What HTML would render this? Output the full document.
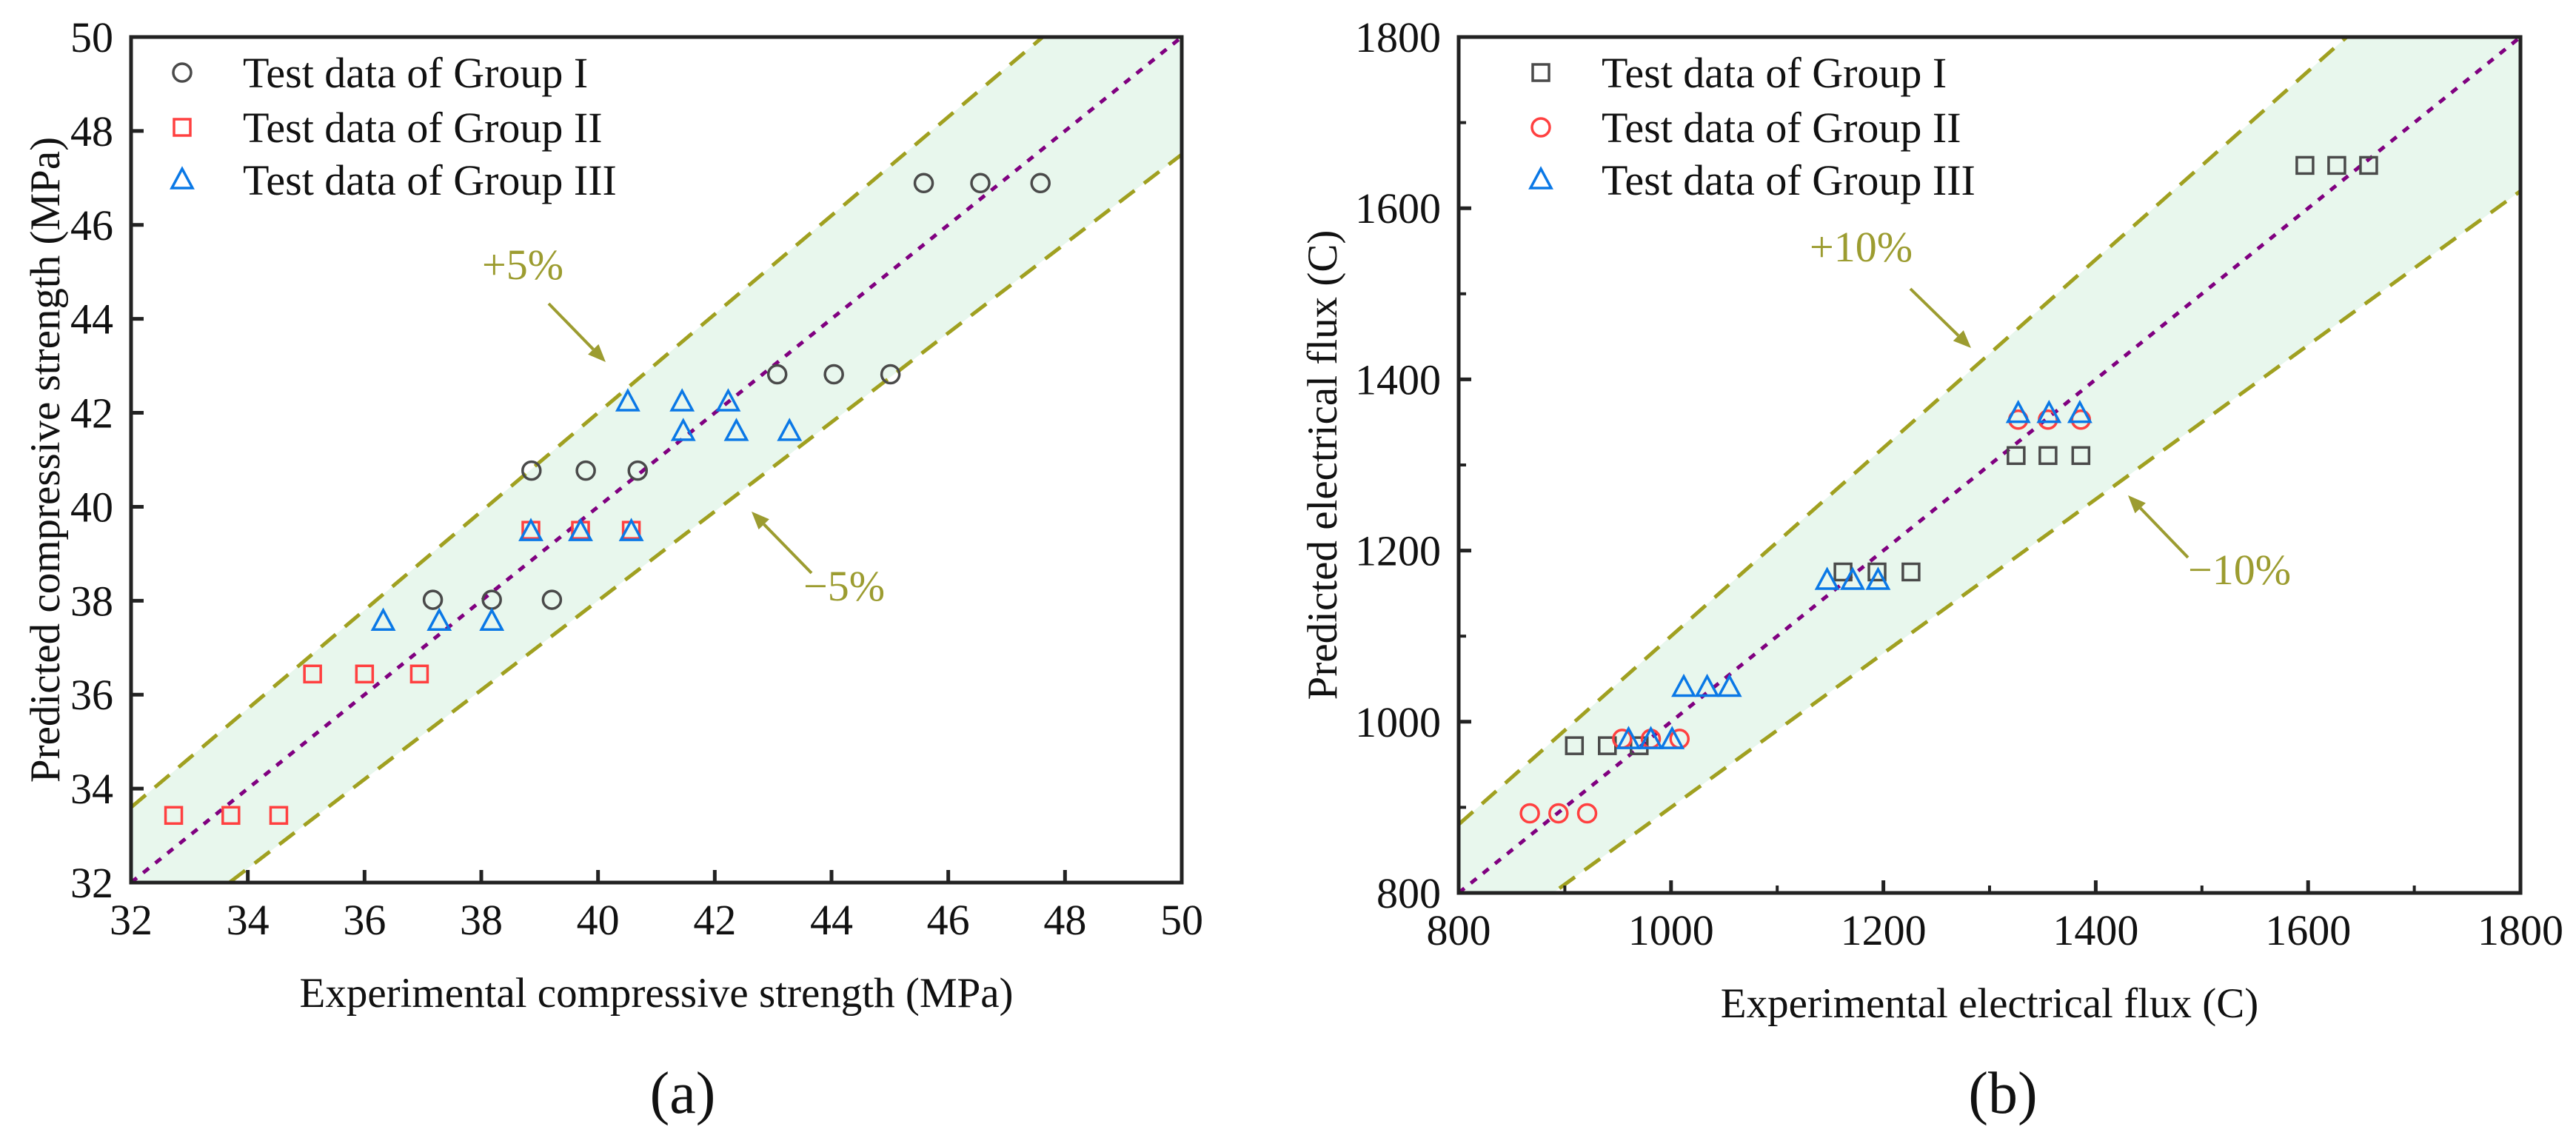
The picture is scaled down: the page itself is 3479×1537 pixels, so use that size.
<!DOCTYPE html>
<html><head><meta charset="utf-8">
<style>
html,body{margin:0;padding:0;background:#fff;}
svg{display:block;font-family:"Liberation Serif","Times New Roman",serif;}
</style></head>
<body>
<svg id="fig" width="3479" height="1537" viewBox="0 0 3479 1537" xmlns="http://www.w3.org/2000/svg">
</svg>
<script>
// ---------- Panel (a) data ----------
const aXTicks = [32,34,36,38,40,42,44,46,48,50];
const aYTicks = [32,34,36,38,40,42,44,46,48,50];
const aG1x = [45.58,46.55,47.58,43.07,44.04,45.01,38.86,39.79,40.68,37.17,38.18,39.21];
const aG1y = [46.89,46.89,46.89,42.82,42.82,42.82,40.77,40.77,40.77,38.02,38.02,38.02];
const aG2x = [32.73,33.71,34.53,35.11,36.00,36.94,38.85,39.70,40.57];
const aG2y = [33.43,33.43,33.43,36.44,36.44,36.44,39.50,39.50,39.50];
const aG3x = [36.32,37.28,38.18,38.85,39.70,40.57,40.51,41.44,42.23,41.46,42.37,43.28];
const aG3y = [37.56,37.56,37.56,39.47,39.47,39.47,42.23,42.23,42.23,41.60,41.60,41.60];
const aBand = 0.05;
// ---------- Panel (b) data ----------
const bXTicks = [800,1000,1200,1400,1600,1800];
const bYTicks = [800,1000,1200,1400,1600,1800];
const bMinor = [900,1100,1300,1500,1700];
const bG1x = [1597,1627,1657,1325,1355,1386,1162,1194,1226,909,940,970];
const bG1y = [1650,1650,1650,1311,1311,1311,1175,1175,1175,972,972,972];
const bG2x = [867,894,921,954,981,1008,1327,1355,1386];
const bG2y = [893,893,893,980,980,980,1353,1353,1353];
const bG3x = [960,981,1001,1012,1034,1055,1147,1171,1195,1327,1356,1385];
const bG3y = [979,979,979,1040,1040,1040,1165,1165,1165,1360,1360,1360];
const bBand = 0.10;

const NS="http://www.w3.org/2000/svg";
const svg=document.getElementById('fig');
function mk(tag,attrs,parent){const e=document.createElementNS(NS,tag);for(const k in attrs)e.setAttribute(k,attrs[k]);(parent||svg).appendChild(e);return e;}
function txt(s,attrs,parent){const e=mk('text',attrs,parent);e.textContent=s;return e;}

const OLIVE="#a0a020", OLIVE_T="#9c9c30";

function panel(cfg){
  const g=mk('g',{});
  
  
  const L=cfg.L,R=cfg.R,T=cfg.T,B=cfg.B;
  const sx=v=>L+(v-cfg.min)/(cfg.max-cfg.min)*(R-L);
  const sy=v=>B-(v-cfg.min)/(cfg.max-cfg.min)*(B-T);
  const cp=mk('clipPath',{id:'clip'+cfg.id},g);
  mk('rect',{x:L,y:T,width:R-L,height:B-T},cp);
  const pg=mk('g',{'clip-path':'url(#clip'+cfg.id+')'},g);
  // band
  const lo=cfg.min, hi=cfg.max, b=cfg.band;
  const band=mk('polygon',{points:[sx(lo)+','+sy(lo*(1+b)),sx(hi)+','+sy(hi*(1+b)),sx(hi)+','+sy(hi*(1-b)),sx(lo)+','+sy(lo*(1-b))].join(' '),fill:'#e8f7ed'},pg);
  
  
  const up=mk('line',{x1:sx(lo),y1:sy(lo*(1+b)),x2:sx(hi),y2:sy(hi*(1+b)),stroke:OLIVE,'stroke-width':5,'stroke-dasharray':'26 16'},pg);
  
  
  const dn=mk('line',{x1:sx(lo),y1:sy(lo*(1-b)),x2:sx(hi),y2:sy(hi*(1-b)),stroke:OLIVE,'stroke-width':5,'stroke-dasharray':'26 16'},pg);
  
  
  const id=mk('line',{x1:sx(lo),y1:sy(lo),x2:sx(hi),y2:sy(hi),stroke:'#800080','stroke-width':5,'stroke-dasharray':'10 11'},pg);
  
  
  // markers
  function marker(shape,color,x,y,parent){
    let e;
    if(shape==='circle') e=mk('circle',{cx:x,cy:y,r:12,fill:'none',stroke:color,'stroke-width':3.5},parent);
    else if(shape==='square') e=mk('rect',{x:x-11,y:y-11,width:22,height:22,fill:'none',stroke:color,'stroke-width':3.5},parent);
    else e=mk('polygon',{points:(x)+','+(y-15)+' '+(x-14)+','+(y+11)+' '+(x+14)+','+(y+11),fill:'none',stroke:color,'stroke-width':3.5,'stroke-linejoin':'miter'},parent);
    return e;
  }
  cfg.series.forEach((s,si)=>{
    const sg=mk('g',{},g);
    
    
    for(let i=0;i<s.x.length;i++){
      const m=marker(s.shape,s.color,sx(s.x[i]),sy(s.y[i]),sg);
      
      
    }
  });
  // axes frame
  const fr=mk('rect',{x:L,y:T,width:R-L,height:B-T,fill:'none',stroke:'#222','stroke-width':5},g);
  
  
  // ticks
  cfg.xticks.forEach(v=>{
    const t=mk('line',{x1:sx(v),y1:B,x2:sx(v),y2:B-17,stroke:'#222','stroke-width':5},g);
    
    
    const l=txt(String(v),{x:sx(v),y:B+70,'font-size':58,'text-anchor':'middle',fill:'#111'},g);
    
    
  });
  cfg.yticks.forEach(v=>{
    const t=mk('line',{x1:L,y1:sy(v),x2:L+17,y2:sy(v),stroke:'#222','stroke-width':5},g);
    
    
    const l=txt(String(v),{x:L-24,y:sy(v)+20,'font-size':58,'text-anchor':'end',fill:'#111'},g);
    
    
  });
  (cfg.minor||[]).forEach(v=>{
    const t=mk('line',{x1:sx(v),y1:B,x2:sx(v),y2:B-10,stroke:'#222','stroke-width':4},g);
    
    
    const u=mk('line',{x1:L,y1:sy(v),x2:L+10,y2:sy(v),stroke:'#222','stroke-width':4},g);
    
    
  });
  // titles
  const xt=txt(cfg.xtitle,{x:(L+R)/2,y:B+168,'font-size':57,'text-anchor':'middle',fill:'#111'},g);
  
  
  const yt=txt(cfg.ytitle,{x:0,y:0,'font-size':57,'text-anchor':'middle',fill:'#111',transform:'translate('+cfg.ytx+','+((T+B)/2)+') rotate(-90)'},g);
  
  
  const pl=txt(cfg.label,{x:cfg.labelX,y:1503,'font-size':80,'text-anchor':'middle',fill:'#111'},g);
  
  
  // legend
  const lg=mk('g',{},g);
  
  
  const rows=[98,172,243];
  cfg.series.forEach((s,si)=>{
    const m=marker(s.shape,s.color,cfg.legMX,rows[si],lg);
    
    
    const t=txt(s.label,{x:cfg.legTX,y:rows[si]+20,'font-size':58,fill:'#111'},lg);
    
    
  });
  // annotations
  cfg.ann.forEach(a=>{
    const t=txt(a.t,{x:a.x,y:a.y,'font-size':58,fill:OLIVE_T},g);
    
    
    const dx=a.x2-a.x1, dy=a.y2-a.y1, len=Math.hypot(dx,dy), ux=dx/len, uy=dy/len;
    const bx=a.x2-ux*24, by=a.y2-uy*24;
    const ln=mk('line',{x1:a.x1,y1:a.y1,x2:bx,y2:by,stroke:OLIVE_T,'stroke-width':4},g);
    
    
    const hd=mk('polygon',{points:a.x2+','+a.y2+' '+(bx-uy*10)+','+(by+ux*10)+' '+(bx+uy*10)+','+(by-ux*10),fill:OLIVE_T},g);
    
    
  });
}

panel({id:'a',name:'panel-a-compressive-strength',L:177,R:1596,T:50,B:1192,min:32,max:50,band:aBand,
  xticks:aXTicks,yticks:aYTicks,
  xtitle:'Experimental compressive strength (MPa)',ytitle:'Predicted compressive strength (MPa)',ytx:80,
  label:'(a)',labelX:922,legMX:246,legTX:328,
  series:[
    {shape:'circle',color:'#4a4a4a',x:aG1x,y:aG1y,label:'Test data of Group I'},
    {shape:'square',color:'#ff4040',x:aG2x,y:aG2y,label:'Test data of Group II'},
    {shape:'triangle',color:'#0a78e6',x:aG3x,y:aG3y,label:'Test data of Group III'}],
  ann:[{t:'+5%',x:651,y:377,x1:741,y1:410,x2:818,y2:489},
       {t:'\u22125%',x:1085,y:811,x1:1096,y1:774,x2:1015,y2:691}]
});
panel({id:'b',name:'panel-b-electrical-flux',L:1970,R:3404,T:50,B:1206,min:800,max:1800,band:bBand,
  xticks:bXTicks,yticks:bYTicks,minor:bMinor,
  xtitle:'Experimental electrical flux (C)',ytitle:'Predicted electrical flux (C)',ytx:1805,
  label:'(b)',labelX:2705,legMX:2081,legTX:2163,
  series:[
    {shape:'square',color:'#4a4a4a',x:bG1x,y:bG1y,label:'Test data of Group I'},
    {shape:'circle',color:'#ff4040',x:bG2x,y:bG2y,label:'Test data of Group II'},
    {shape:'triangle',color:'#0a78e6',x:bG3x,y:bG3y,label:'Test data of Group III'}],
  ann:[{t:'+10%',x:2444,y:353,x1:2580,y1:390,x2:2662,y2:470},
       {t:'\u221210%',x:2955,y:789,x1:2955,y1:753,x2:2874,y2:669}]
});
</script>
</body></html>
